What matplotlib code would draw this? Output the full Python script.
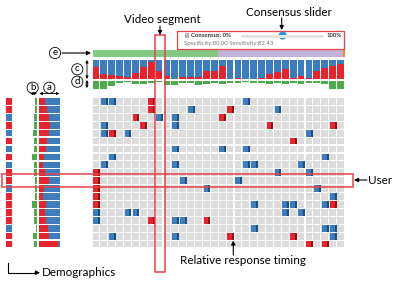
import matplotlib
matplotlib.use("Agg")
import numpy as np
import matplotlib.pyplot as plt
from matplotlib.patches import Rectangle, Circle

plt.rcParams['font.family'] = ['Lato', 'DejaVu Sans']

W, H = 399, 291
n_rows = 19
n_cols = 32

# response matrix: (row, col) of blue / red responses
blue_cells = [(0, 1), (0, 2), (0, 19), (1, 12), (1, 23), (2, 8), (2, 10),
              (3, 1), (3, 10), (4, 1), (4, 4), (4, 27), (6, 10), (6, 16), (6, 19),
              (7, 2), (7, 29), (8, 1), (8, 10), (8, 19), (8, 20), (8, 26),
              (9, 23), (9, 27), (10, 11), (10, 18), (11, 14), (11, 28), (12, 30),
              (13, 20), (13, 24), (13, 25), (13, 29), (14, 0), (14, 4), (14, 5),
              (14, 24), (14, 26), (15, 0), (15, 10), (15, 11), (16, 20), (16, 29),
              (16, 30), (17, 2), (17, 10), (17, 30)]
red_cells = [(0, 7), (1, 7), (1, 17), (2, 5), (2, 16), (3, 6), (3, 22), (3, 30),
             (4, 2), (5, 25), (9, 0), (10, 0), (11, 0), (12, 0), (13, 0), (13, 30),
             (15, 7), (15, 14), (17, 17), (17, 25), (18, 27), (18, 29)]

# per segment summary (c): red share of stacked bar
top_red = [0.66, 0.26, 0.22, 0.20, 0.12, 0.34, 0.66, 0.91, 0.45, 0.16, 0.05,
           0.12, 0.15, 0.14, 0.45, 0.45, 0.71, 0.05, 0.10, 0.03, 0.03, 0.10,
           0.28, 0.40, 0.52, 0.10, 0.17, 0.10, 0.45, 0.57, 0.69, 0.80]
# (d) green bars below
top_green = [8, 8, 5, 2.5, 1.5, 3, 3, 2.5, 1.5, 4, 4, 2, 2, 4, 3, 2, 3, 2, 2,
             1.5, 2.5, 2, 3, 2, 3, 2, 3, 2, 2.5, 3, 8, 8]
# (e) segment strip
strip_len = [15.9, 15.85, 0.25]
strip_col = ['#84c981', '#c3b1d8', '#f08a30']

# user side: (a) red share, (b) green bars, demographics
left_red = [0.29, 0.37, 0.49, 0.52, 0.49, 0.37, 0.33, 0.24, 0.21, 0.29, 0.49,
            0.25, 0.21, 0.33, 0.30, 0.33, 0.44, 0.49, 0.92]
left_green = [2.5, 2.5, 3, 3, 4, 3, 3, 5, 3, 3, 2, 2, 2, 5, 3, 3, 1, 4, 3]
demo = ['r', 'r', 'b', 'r', 'b', 'r', 'b', 'r', 'b', 'r', 'r', 'b', 'r', 'r',
        'r', 'r', 'b', 'r', 'r']

BLUE = '#3c7dbf'
DBLUE = '#1c4e7e'
RED = '#e8232b'
DRED = '#8c1313'
GRAY = '#dcdcdc'
GREEN = '#4cac4c'
LINE = '#e8414a'

fig = plt.figure(figsize=(W / 100, H / 100), dpi=100)


def px_axes(x0, y0, x1, y1):
    ax = fig.add_axes([x0 / W, 1 - y1 / H, (x1 - x0) / W, (y1 - y0) / H])
    ax.set_axis_off()
    return ax


cols = np.arange(n_cols)
rows = np.arange(n_rows)

# main grid
gx = px_axes(92.5, 97.5, 345, 248)
gx.set_xlim(0, n_cols)
gx.set_ylim(n_rows, 0)
for r in rows:
    gx.bar(cols, 0.86, bottom=r + 0.07, width=0.86, align='edge', color=GRAY)
for cells, c_main, c_dark in [(blue_cells, BLUE, DBLUE), (red_cells, RED, DRED)]:
    for r, c in cells:
        gx.add_patch(Rectangle((c + 0.07, r + 0.07), 0.86, 0.86, color=c_main, lw=0))
        gx.add_patch(Rectangle((c + 0.68, r + 0.07), 0.25, 0.86, color=c_dark, lw=0))

# stacked bars (c)
tx = px_axes(92.5, 60, 345, 79.5)
tx.set_xlim(0, n_cols)
tx.set_ylim(0, 1)
tx.bar(cols, 1, width=0.86, align='edge', color=BLUE)
tx.bar(cols, top_red, width=0.86, align='edge', color=RED)

# green bars (d)
dx = px_axes(92.5, 80.5, 345, 89)
dx.set_xlim(0, n_cols)
dx.set_ylim(8.5, 0)
dx.bar(cols, top_green, width=0.86, align='edge', color=GREEN)

# segment strip (e)
ex = px_axes(92.5, 50, 345, 57)
ex.set_xlim(0, n_cols)
ex.set_ylim(-0.5, 0.5)
ex.barh(0, strip_len, left=np.cumsum([0] + strip_len[:-1]), height=1, color=strip_col)

# user bars (a)
ax_a = px_axes(39, 97.5, 60, 248)
ax_a.set_xlim(0, 1)
ax_a.set_ylim(n_rows, 0)
lr = np.array(left_red)
ax_a.barh(rows + 0.5, lr, height=0.84, color=RED)
ax_a.barh(rows + 0.5, 1 - lr, left=lr, height=0.84, color=BLUE)

# user green bars (b)
ax_b = px_axes(30, 97.5, 37, 248)
ax_b.set_xlim(7, 0)
ax_b.set_ylim(n_rows, 0)
ax_b.barh(rows + 0.5, left_green, height=0.84, color=GREEN)

# demographics
ax_d = px_axes(5.5, 97.5, 12, 248)
ax_d.set_xlim(0, 1)
ax_d.set_ylim(n_rows, 0)
ax_d.barh(rows + 0.5, 1, height=0.84, color=[RED if d == 'r' else BLUE for d in demo])

# annotation layer
ov = fig.add_axes([0, 0, 1, 1], zorder=10)
ov.set_xlim(0, W)
ov.set_ylim(H, 0)
ov.set_axis_off()
ov.patch.set_alpha(0)

arr = dict(arrowstyle='-|>', lw=0.8, color='k', mutation_scale=6, shrinkA=0, shrinkB=0)
darr = dict(arrowstyle='<|-|>', lw=0.6, color='k', mutation_scale=4, shrinkA=0, shrinkB=0)

ov.add_patch(Rectangle((1.5, 174), 351.5, 12.5, fill=False, ec=LINE, lw=1.1))
ov.add_patch(Rectangle((155, 35), 9.5, 237, fill=False, ec=LINE, lw=1.1))

ov.text(162.5, 19.5, 'Video segment', fontsize=8.4, ha='center', va='center')
ov.annotate('', xy=(160, 35), xytext=(160, 26), arrowprops=arr)

ov.text(289, 12.5, 'Consensus slider', fontsize=8.4, ha='center', va='center')
ov.annotate('', xy=(281.7, 30), xytext=(281.7, 18), arrowprops=arr)

# slider widget
ov.add_patch(Rectangle((176.7, 31), 167.3, 17.5, fill=False, ec=LINE, lw=0.9))
ov.add_patch(Rectangle((184.5, 33.3), 3.5, 3.5, fc='#eeeeee', ec='#777777', lw=0.4))
ov.text(186.2, 35.1, '✓', fontsize=3.5, ha='center', va='center',
        family='DejaVu Sans', color='#333333')
ov.text(191, 35.3, 'Consensus: 0%', fontsize=4.3, fontweight='bold', va='center',
        color='#333333')
ov.plot([241.7, 321.7], [35.5, 35.5], color='#e4e4e4', lw=2.2, solid_capstyle='round')
ov.add_patch(Circle((282.7, 35.5), 3.3, color='#2f8fd8'))
ov.text(341.5, 35.3, '100%', fontsize=4.3, fontweight='bold', va='center', ha='right',
        color='#333333')
ov.text(184, 43.5, 'Specificity:80.00 Sensitivity:82.43', fontsize=4.3, va='center',
        color='#777777')

# circled labels
for lab, cx, cy in [('e', 55, 53), ('c', 77.3, 69.3), ('d', 77.3, 81.7),
                    ('b', 32.7, 87.7), ('a', 49.3, 87.7)]:
    ov.add_patch(Circle((cx, cy), 5.6, fill=False, ec='k', lw=0.6))
    ov.text(cx, cy - 0.5, lab, fontsize=7, ha='center', va='center')
ov.annotate('', xy=(91, 53), xytext=(62, 53), arrowprops=arr)
ov.annotate('', xy=(87, 60), xytext=(87, 79), arrowprops=darr)
ov.annotate('', xy=(87, 80), xytext=(87, 88), arrowprops=darr)
ov.annotate('', xy=(30, 93.5), xytext=(37, 93.5), arrowprops=darr)
ov.annotate('', xy=(39.3, 93.5), xytext=(59.5, 93.5), arrowprops=darr)

# user label
ov.text(368, 180, 'User', fontsize=8.4, va='center')
ov.annotate('', xy=(354, 180), xytext=(367, 180), arrowprops=arr)

# response timing label
ov.text(243.3, 261, 'Relative response timing', fontsize=8.4, ha='center', va='center')
ov.annotate('', xy=(233.3, 240.5), xytext=(233.3, 255), arrowprops=arr)

# demographics bracket
ov.plot([8.3, 8.3, 36], [262.5, 272.7, 272.7], color='k', lw=0.8)
ov.annotate('', xy=(40, 272.7), xytext=(35, 272.7), arrowprops=arr)
ov.text(41.7, 273, 'Demographics', fontsize=8.4, va='center')

fig.savefig('out.png', dpi=100)
